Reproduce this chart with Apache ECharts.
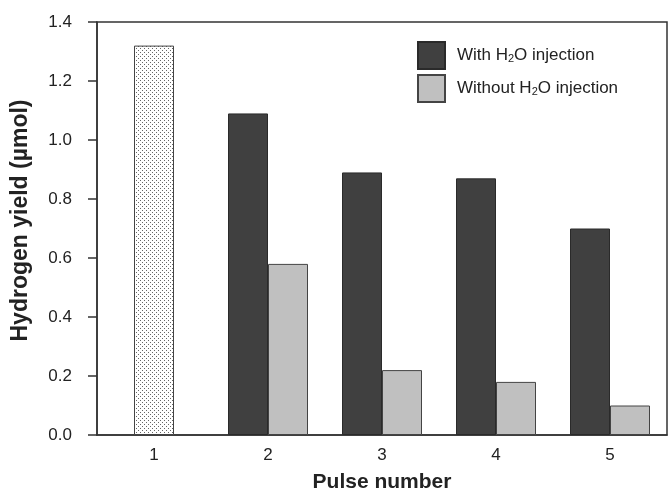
<!DOCTYPE html>
<html>
<head>
<meta charset="utf-8">
<script src="https://cdn.jsdelivr.net/npm/echarts@6/dist/echarts.min.js"></script>
<style>
  html, body { margin: 0; padding: 0; background: #fff; }
  #chart { width: 669px; height: 494px; }
</style>
</head>
<body>
<div id="chart"></div>
<script>
// data
const pulses = ['1', '2', '3', '4', '5'];
const firstPulse = [1.32, '-', '-', '-', '-'];
const withWater = ['-', 1.09, 0.89, 0.87, 0.70];
const withoutWater = ['-', 0.58, 0.22, 0.18, 0.10];
const yTicks = { min: 0, max: 1.4, interval: 0.2 };

const FONT = '"Liberation Sans", Arial, sans-serif';
const INK = '#222';

// stippled fill for the first pulse bar
function dotPattern() {
  const c = document.createElement('canvas');
  c.width = 4; c.height = 4;
  const g = c.getContext('2d');
  g.fillStyle = '#fff';
  g.fillRect(0, 0, 4, 4);
  g.fillStyle = '#666';
  g.fillRect(0, 0, 1, 1);
  g.fillRect(2, 2, 1, 1);
  return c;
}

const chart = echarts.init(document.getElementById('chart'), null, { renderer: 'canvas' });

const subRich = {
  sub: { fontSize: 11, fontFamily: FONT, color: INK, verticalAlign: 'bottom', padding: [7, 0, 0, 0] }
};

chart.setOption({
  animation: false,
  backgroundColor: '#fff',
  grid: {
    left: 97, right: 2, top: 22, bottom: 59,
    outerBoundsMode: 'none',
    show: true, borderColor: '#333', borderWidth: 1.5, backgroundColor: 'transparent'
  },
  legend: {
    data: ['With H2O injection', 'Without H2O injection'],
    orient: 'vertical',
    left: 417, top: 41, padding: 0,
    itemWidth: 27, itemHeight: 27, itemGap: 4,
    icon: 'rect',
    textStyle: { fontFamily: FONT, fontSize: 17, color: INK, rich: subRich, padding: [0, 0, 0, 7] },
    formatter: name => name.replace('H2O', 'H{sub|2}O')
  },
  xAxis: [{
    type: 'category',
    data: pulses,
    axisTick: { show: false },
    axisLine: { lineStyle: { color: '#333', width: 1.5 } },
    axisLabel: { fontFamily: FONT, fontSize: 17, color: INK, margin: 12 },
    name: 'Pulse number',
    nameLocation: 'middle',
    nameGap: 37,
    nameTextStyle: { fontFamily: FONT, fontSize: 21, fontWeight: 'bold', color: INK }
  }, {
    type: 'category',
    data: pulses,
    show: false
  }],
  yAxis: {
    type: 'value',
    min: yTicks.min, max: yTicks.max, interval: yTicks.interval,
    axisLine: { show: true, lineStyle: { color: '#333', width: 1.5 } },
    axisTick: { show: true, length: 9, lineStyle: { color: '#333', width: 1.5 } },
    splitLine: { show: false },
    axisLabel: { fontFamily: FONT, fontSize: 17, color: INK, margin: 25, formatter: v => v.toFixed(1) },
    name: 'Hydrogen yield (\u00b5mol)',
    nameLocation: 'middle',
    nameGap: 65,
    nameTextStyle: { fontFamily: FONT, fontSize: 23, fontWeight: 'bold', color: INK, padding: [0, 0, 0, 16] }
  },
  series: [{
    name: 'First pulse',
    type: 'bar',
    xAxisIndex: 1,
    data: firstPulse,
    barWidth: 40,
    itemStyle: { color: { image: dotPattern(), repeat: 'repeat' }, borderColor: '#444', borderWidth: 1 }
  }, {
    name: 'With H2O injection',
    type: 'bar',
    data: withWater,
    barWidth: 40,
    barGap: '0%',
    itemStyle: { color: '#404040', borderColor: '#2a2a2a', borderWidth: 1 }
  }, {
    name: 'Without H2O injection',
    type: 'bar',
    data: withoutWater,
    barWidth: 40,
    barGap: '0%',
    itemStyle: { color: '#c0c0c0', borderColor: '#444', borderWidth: 1 }
  }]
});
</script>
</body>
</html>
